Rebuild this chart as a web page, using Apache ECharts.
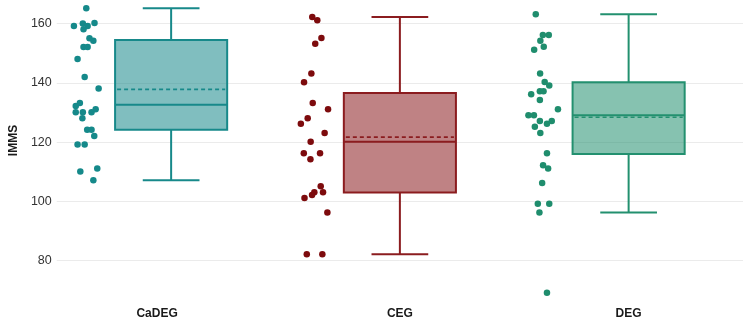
<!DOCTYPE html>
<html>
<head>
<meta charset="utf-8">
<script src="https://cdn.jsdelivr.net/npm/echarts@6/dist/echarts.min.js"></script>
<style>
  html, body { margin: 0; padding: 0; background: #fff; }
  #main { width: 744px; height: 321px; }
</style>
</head>
<body>
<div id="main"></div>
<script>
// groups
var groups = ['CaDEG', 'CEG', 'DEG'];

// box stats: [min, Q1, median, Q3, max]
var boxStats = [
  [107.1, 124.2, 132.6, 154.5, 165.2],
  [82.1, 103.0, 120.1, 136.6, 162.3],
  [96.2, 116.0, 129.1, 140.2, 163.2]
];
// means (dashed line)
var means = [137.8, 121.7, 128.4];

// raw points per group
var caDEG = [165.2, 159.2, 160.1, 160.2, 159.2, 158.1, 155.1, 154.2, 152.1, 152.1, 148.1, 142.0, 138.1, 133.2,
  132.2, 130.1, 130.1, 130.1, 131.1, 128.1, 124.2, 124.2, 122.1, 119.2, 119.2, 110.1, 111.1, 107.1];
var caDEGJitter = [-0.371, -0.425, -0.386, -0.335, -0.365, -0.383, -0.357, -0.340, -0.383, -0.365, -0.409, -0.378, -0.317, -0.399,
  -0.417, -0.417, -0.386, -0.348, -0.330, -0.388, -0.367, -0.348, -0.336, -0.409, -0.378, -0.397, -0.323, -0.340];

var ceg = [162.3, 161.2, 155.2, 153.2, 143.2, 140.2, 133.2, 131.1, 128.1, 126.2, 123.1, 120.1, 116.2, 116.2,
  114.2, 105.1, 103.1, 103.1, 102.1, 101.1, 96.2, 82.1, 82.1];
var cegJitter = [-0.383, -0.361, -0.343, -0.370, -0.387, -0.419, -0.381, -0.314, -0.403, -0.433, -0.329, -0.390, -0.420, -0.349,
  -0.391, -0.346, -0.374, -0.336, -0.384, -0.417, -0.317, -0.407, -0.339];

var deg = [163.2, 156.2, 156.2, 154.2, 151.2, 152.2, 143.2, 140.3, 139.1, 137.2, 137.2, 136.2, 134.2, 131.1,
  129.1, 129.1, 127.1, 127.1, 126.2, 125.2, 123.1, 116.2, 112.2, 111.1, 106.2, 99.2, 99.2, 96.2, 69.1];
var degJitter = [-0.406, -0.375, -0.349, -0.386, -0.413, -0.371, -0.387, -0.367, -0.347, -0.388, -0.372, -0.426, -0.388, -0.309,
  -0.438, -0.414, -0.388, -0.336, -0.357, -0.410, -0.386, -0.357, -0.374, -0.352, -0.378, -0.397, -0.347, -0.390, -0.357];

// colours
var strokeColors = ['#17898a', '#8b1c1f', '#23906f'];
var fillColors = ['rgba(23,137,138,0.55)', 'rgba(139,28,31,0.55)', 'rgba(35,144,111,0.55)'];
var dotColors = ['#15898a', '#7d0b0d', '#1f8d6d'];

function points(idx, vals, jit) {
  var out = [];
  for (var k = 0; k < vals.length; k++) {
    out.push([idx + jit[k], vals[k]]);
  }
  return out;
}

var boxData = groups.map(function (g, i) {
  var s = boxStats[i];
  return [i, s[0], s[1], s[2], s[3], s[4], means[i]];
});

var myChart = echarts.init(document.getElementById('main'));

var option = {
  backgroundColor: '#fff',
  animation: false,
  grid: { left: 53, right: 1, top: 0, bottom: 19 },
  xAxis: [
    {
      type: 'category',
      data: groups,
      axisLine: { show: false },
      axisTick: { show: false },
      splitLine: { show: false },
      axisLabel: {
        margin: 6,
        formatter: function (v) {
          return v === 'CaDEG' ? '{a|' + v + '}' : '{b|' + v + '}';
        },
        rich: {
          a: { fontSize: 12, fontWeight: 'bold', color: '#1a1a1a', fontFamily: 'Liberation Sans', padding: [0, 28, 0, 0] },
          b: { fontSize: 12, fontWeight: 'bold', color: '#1a1a1a', fontFamily: 'Liberation Sans' }
        }
      }
    },
    {
      type: 'value',
      min: -0.5,
      max: 2.5,
      show: false
    }
  ],
  yAxis: {
    type: 'value',
    min: 66,
    max: 168,
    splitNumber: 5,
    name: 'IMMS',
    nameLocation: 'middle',
    nameGap: 30,
    nameTextStyle: { fontSize: 12, fontWeight: 'bold', color: '#1a1a1a', fontFamily: 'Liberation Sans', padding: [0, 0, 0, 21] },
    axisLine: { show: false },
    axisTick: { show: false },
    axisLabel: {
      margin: 5,
      fontSize: 12.5,
      color: '#333',
      fontFamily: 'Liberation Sans',
      showMinLabel: false,
      showMaxLabel: false
    },
    splitLine: {
      showMinLine: false,
      showMaxLine: false,
      lineStyle: { color: '#ebebeb', width: 1 }
    }
  },
  series: [
    {
      type: 'custom',
      xAxisIndex: 0,
      data: boxData,
      encode: { x: 0, y: [1, 2, 3, 4, 5, 6] },
      renderItem: function (params, api) {
        var i = api.value(0);
        var band = api.size([1, 0])[0];
        var cx = api.coord([i, api.value(3)])[0];
        var yMin = api.coord([i, api.value(1)])[1];
        var yQ1 = api.coord([i, api.value(2)])[1];
        var yMed = api.coord([i, api.value(3)])[1];
        var yQ3 = api.coord([i, api.value(4)])[1];
        var yMax = api.coord([i, api.value(5)])[1];
        var yMean = api.coord([i, api.value(6)])[1];
        var bw = band * 0.49;
        var cw = band * 0.248;
        var col = strokeColors[i];
        var ls = { stroke: col, lineWidth: 2 };
        return {
          type: 'group',
          children: [
            { type: 'line', shape: { x1: cx, y1: yMax, x2: cx, y2: yQ3 }, style: ls },
            { type: 'line', shape: { x1: cx, y1: yQ1, x2: cx, y2: yMin }, style: ls },
            { type: 'line', shape: { x1: cx - cw / 2, y1: yMax, x2: cx + cw / 2, y2: yMax }, style: ls },
            { type: 'line', shape: { x1: cx - cw / 2, y1: yMin, x2: cx + cw / 2, y2: yMin }, style: ls },
            {
              type: 'rect',
              shape: { x: cx - bw / 2, y: yQ3, width: bw, height: yQ1 - yQ3 },
              style: { fill: fillColors[i], stroke: col, lineWidth: 2 }
            },
            { type: 'line', shape: { x1: cx - bw / 2, y1: yMed, x2: cx + bw / 2, y2: yMed }, style: ls },
            {
              type: 'line',
              shape: { x1: cx - bw / 2 + 2, y1: yMean, x2: cx + bw / 2 - 2, y2: yMean },
              style: { stroke: col, lineWidth: 1.6, lineDash: [4, 3] }
            }
          ]
        };
      }
    },
    {
      type: 'scatter',
      xAxisIndex: 1,
      symbolSize: 6.5,
      itemStyle: { color: dotColors[0], opacity: 1 },
      data: points(0, caDEG, caDEGJitter)
    },
    {
      type: 'scatter',
      xAxisIndex: 1,
      symbolSize: 6.5,
      itemStyle: { color: dotColors[1], opacity: 1 },
      data: points(1, ceg, cegJitter)
    },
    {
      type: 'scatter',
      xAxisIndex: 1,
      symbolSize: 6.5,
      itemStyle: { color: dotColors[2], opacity: 1 },
      data: points(2, deg, degJitter)
    }
  ]
};

myChart.setOption(option);
</script>
</body>
</html>
